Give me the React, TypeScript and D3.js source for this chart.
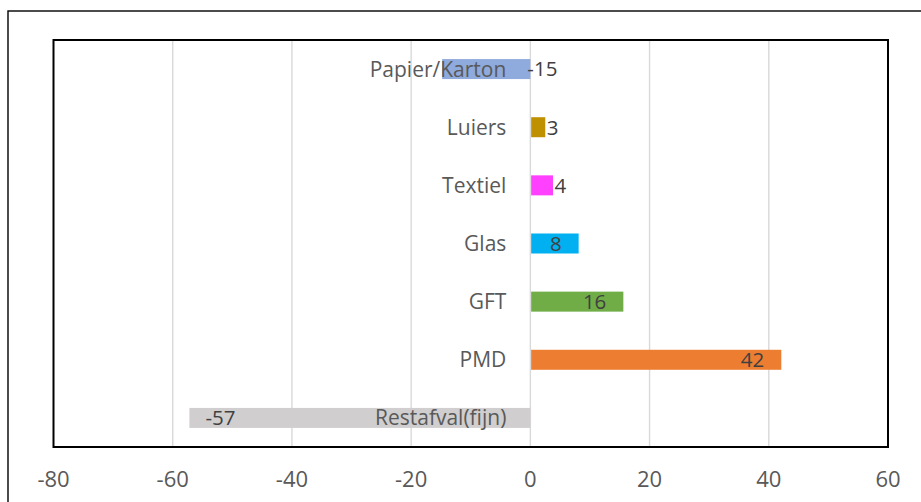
import React from "react";
import * as d3 from "d3";

const categories = ["Papier/Karton", "Luiers", "Textiel", "Glas", "GFT", "PMD", "Restafval(fijn)"];
const values = [-14.8, 2.5, 3.8, 8.1, 15.6, 42.1, -57.2];
const colors = ["#8FAADC", "#BF9000", "#FF40FF", "#00B0F0", "#70AD47", "#ED7D31", "#D0CECE"];
const xTicks = [-80, -60, -40, -20, 0, 20, 40, 60];

const W = 921;
const H = 502;
const plot = { left: 53.5, right: 888, top: 40, bottom: 447 };
const FONT = "'Open Sans', 'Liberation Sans', sans-serif";
const FS_CAT = 21;
const FS_VAL = 20.5;
const FS_TICK = 22;

export default function App() {
  const x = d3.scaleLinear().domain([-80, 60]).range([plot.left, plot.right]);
  const y = d3
    .scaleBand<string>()
    .domain(categories)
    .range([plot.top, plot.bottom])
    .paddingInner(0.656)
    .paddingOuter(0.328);
  const x0 = x(0);
  const mid = (c: string) => (y(c) as number) + y.bandwidth() / 2;

  return (
    <svg
      width={W}
      height={H}
      style={{ position: "absolute", left: 0, top: 0, background: "#fff" }}
      fontFamily={FONT}
    >
      <rect x={0} y={0} width={W} height={H} fill="#fff" />
      {/* outer chart frame */}
      <rect x={8} y={11} width={W + 20} height={H + 20} fill="none" stroke="#000" strokeWidth={1.4} />
      {/* gridlines */}
      {xTicks
        .filter((t) => t > -80 && t < 60)
        .map((t) => (
          <line key={t} x1={x(t)} x2={x(t)} y1={plot.top} y2={plot.bottom} stroke="#D9D9D9" strokeWidth={1.4} />
        ))}
      {/* bars */}
      {categories.map((c, i) => {
        const v = values[i];
        const xa = x(Math.min(0, v));
        const xb = x(Math.max(0, v));
        return (
          <rect
            key={c}
            x={v >= 0 ? xa + 0.8 : xa}
            y={y(c)}
            width={v >= 0 ? xb - xa - 0.8 : xb - xa}
            height={y.bandwidth()}
            fill={colors[i]}
          />
        );
      })}
      {/* category labels */}
      {categories.map((c) => (
        <text
          key={c}
          x={x0 - 24}
          y={mid(c) + (FS_CAT * 0.714) / 2}
          textAnchor="end"
          fontSize={FS_CAT}
          fill="#595959"
        >
          {c}
        </text>
      ))}
      {/* value labels */}
      {categories.map((c, i) => {
        const v = values[i];
        const xe = x(v);
        const w = Math.abs(xe - x0);
        let lx: number;
        let anchor: "start" | "end";
        if (v >= 0) {
          if (w > 40) {
            lx = xe - 17;
            anchor = "end";
          } else {
            lx = xe + 1.5;
            anchor = "start";
          }
        } else {
          if (w > 200) {
            lx = xe + 16;
            anchor = "start";
          } else {
            lx = x0 - 3;
            anchor = "start";
          }
        }
        return (
          <text
            key={c}
            x={lx}
            y={mid(c) + (FS_VAL * 0.714) / 2}
            textAnchor={anchor}
            fontSize={FS_VAL}
            fill="#404040"
          >
            {String(Math.round(v))}
          </text>
        );
      })}
      {/* plot border */}
      <rect
        x={plot.left}
        y={plot.top}
        width={plot.right - plot.left}
        height={plot.bottom - plot.top}
        fill="none"
        stroke="#000"
        strokeWidth={2}
      />
      {/* tick labels */}
      {xTicks.map((t) => (
        <text key={t} x={x(t)} y={486.7} textAnchor="middle" fontSize={FS_TICK} fill="#595959">
          {String(t)}
        </text>
      ))}
    </svg>
  );
}
